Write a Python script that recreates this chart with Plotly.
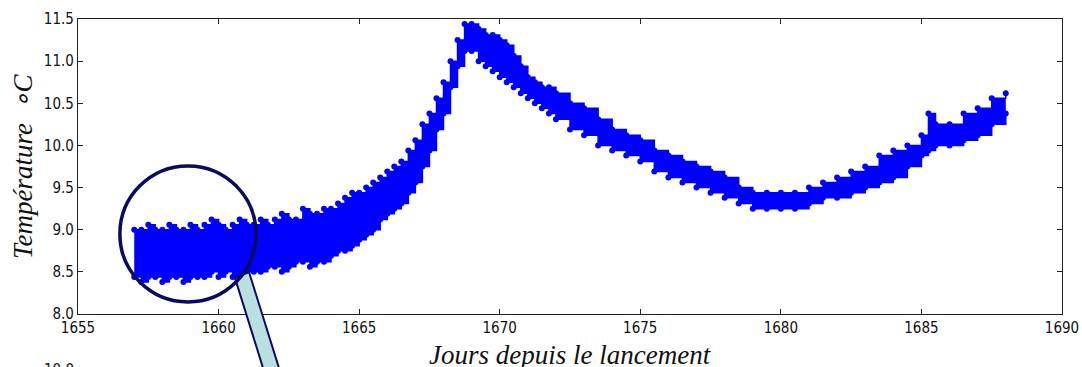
import plotly.graph_objects as go

# ---- data (days since launch, temperature band) ----
days = [1657.0, 1657.25, 1657.5, 1657.75, 1658.0, 1658.25, 1658.5, 1658.75,
        1659.0, 1659.25, 1659.5, 1659.75, 1660.0, 1660.25, 1660.5, 1660.75,
        1661.0, 1661.25, 1661.5, 1661.75, 1662.0, 1662.25, 1662.5, 1662.75,
        1663.0, 1663.25, 1663.5, 1663.75, 1664.0, 1664.25, 1664.5, 1664.75,
        1665.0, 1665.25, 1665.5, 1665.75, 1666.0, 1666.25, 1666.5, 1666.75,
        1667.0, 1667.25, 1667.5, 1667.75, 1668.0, 1668.25, 1668.5, 1668.75,
        1669.0, 1669.25, 1669.5, 1669.75, 1670.0, 1670.25, 1670.5, 1670.75,
        1671.0, 1671.25, 1671.5, 1671.75, 1672.0, 1672.5, 1673.0, 1673.5,
        1674.0, 1674.5, 1675.0, 1675.5, 1676.0, 1676.5, 1677.0, 1677.5,
        1678.0, 1678.5, 1679.0, 1679.5, 1680.0, 1680.5, 1681.0, 1681.5,
        1682.0, 1682.5, 1683.0, 1683.5, 1684.0, 1684.5, 1685.0, 1685.25,
        1685.5, 1686.0, 1686.5, 1687.0, 1687.5, 1688.0]

t_min = [8.44, 8.38, 8.44, 8.44, 8.38, 8.44, 8.44, 8.38,
         8.44, 8.44, 8.44, 8.50, 8.44, 8.50, 8.44, 8.50,
         8.50, 8.50, 8.50, 8.56, 8.56, 8.50, 8.56, 8.62,
         8.62, 8.56, 8.62, 8.62, 8.69, 8.75, 8.75, 8.81,
         8.88, 8.94, 9.00, 9.12, 9.19, 9.25, 9.31, 9.44,
         9.56, 9.75, 9.94, 10.19, 10.38, 10.69, 10.94, 11.12,
         11.12, 11.00, 10.94, 10.88, 10.81, 10.75, 10.69, 10.62,
         10.56, 10.50, 10.44, 10.38, 10.31, 10.19, 10.12, 10.00,
         9.94, 9.88, 9.81, 9.69, 9.62, 9.56, 9.50, 9.44,
         9.38, 9.31, 9.25, 9.25, 9.25, 9.25, 9.31, 9.38,
         9.38, 9.44, 9.50, 9.56, 9.62, 9.75, 9.88, 9.94,
         10.00, 10.00, 10.06, 10.12, 10.25, 10.38]

t_max = [9.00, 9.00, 9.06, 9.00, 9.00, 9.06, 9.00, 9.00,
         9.06, 9.00, 9.06, 9.12, 9.06, 9.00, 9.06, 9.12,
         9.06, 9.06, 9.12, 9.06, 9.12, 9.19, 9.12, 9.12,
         9.25, 9.19, 9.19, 9.25, 9.25, 9.31, 9.38, 9.44,
         9.44, 9.50, 9.56, 9.62, 9.69, 9.75, 9.81, 9.94,
         10.06, 10.25, 10.38, 10.56, 10.75, 11.00, 11.25, 11.44,
         11.44, 11.38, 11.31, 11.31, 11.25, 11.19, 11.06, 10.94,
         10.81, 10.75, 10.69, 10.69, 10.62, 10.50, 10.44, 10.31,
         10.19, 10.12, 10.06, 9.94, 9.88, 9.81, 9.75, 9.69,
         9.62, 9.50, 9.44, 9.44, 9.44, 9.44, 9.50, 9.56,
         9.62, 9.69, 9.75, 9.88, 9.94, 10.00, 10.12, 10.38,
         10.25, 10.25, 10.38, 10.44, 10.56, 10.62]

x_ticks = [1655, 1660, 1665, 1670, 1675, 1680, 1685, 1690]
y_ticks = [8.0, 8.5, 9.0, 9.5, 10.0, 10.5, 11.0, 11.5]

BLUE = "#0000ff"
NAVY = "#0a0a5e"

fig = go.Figure()
fig.add_trace(go.Scatter(
    x=days, y=t_min, mode="lines+markers",
    line=dict(color=BLUE, width=1.5, shape="hv"),
    marker=dict(size=6, color=BLUE), showlegend=False, hoverinfo="skip"))
fig.add_trace(go.Scatter(
    x=days, y=t_max, mode="lines+markers", fill="tonexty", fillcolor=BLUE,
    line=dict(color=BLUE, width=1.5, shape="hv"),
    marker=dict(size=6, color=BLUE), showlegend=False, hoverinfo="skip"))

# plot area in pixels: x 78..1062, y 19..314
L, R, T, B = 78, 1062, 19, 314
W, H = R - L, B - T

def px(x):
    return (x - L) / W

def py(y):
    return (B - y) / H

# connector band (light blue) going to a lower inset, then the circle
corners = [(235, 278), (249, 272), (289, 400), (273, 400)]
path = "M " + " L ".join(f"{px(a):.5f},{py(b):.5f}" for a, b in corners) + " Z"

axis_common = dict(
    showgrid=False, zeroline=False, showline=True, linecolor="#222222",
    linewidth=1.2, mirror="allticks", ticks="inside", ticklen=5,
    tickcolor="#222222", tickwidth=1, automargin=False,
    tickfont=dict(family="DejaVu Sans Condensed, DejaVu Sans", size=15, color="#111111"),
)

fig.update_layout(
    width=1082, height=367,
    margin=dict(l=L, r=1082 - R, t=T, b=367 - B, autoexpand=False),
    paper_bgcolor="white", plot_bgcolor="white",
    xaxis=dict(range=[1655, 1690], tickvals=x_ticks,
               ticktext=[str(v) for v in x_ticks], **axis_common),
    yaxis=dict(range=[8.0, 11.5], tickvals=y_ticks,
               ticktext=[f"{v:.1f}" for v in y_ticks], **axis_common),
    shapes=[
        dict(type="path", xref="paper", yref="paper", path=path,
             fillcolor="#b9dfe1", line=dict(color=NAVY, width=2), layer="above"),
        dict(type="circle", xref="x", yref="y",
             x0=1656.49, x1=1661.33, y0=8.143, y1=9.757,
             line=dict(color=NAVY, width=3.5), layer="above"),
    ],
    annotations=[
        dict(text="Jours depuis le lancement", xref="paper", yref="paper",
             x=0.5, y=py(355), xanchor="center", yanchor="middle", showarrow=False,
             font=dict(family="Liberation Serif", size=27, color="#111111", style="italic")),
        dict(text="Température  ∘C", xref="paper", yref="paper",
             x=px(23), y=py(166), xanchor="center", yanchor="middle", showarrow=False,
             textangle=-90,
             font=dict(family="Liberation Serif", size=27, color="#111111", style="italic")),
        dict(text="10.0", xref="paper", yref="paper",
             x=px(59), y=py(370), xanchor="center", yanchor="middle", showarrow=False,
             font=dict(family="DejaVu Sans Condensed, DejaVu Sans", size=15, color="#111111")),
    ],
)

fig.write_html("out.html")
